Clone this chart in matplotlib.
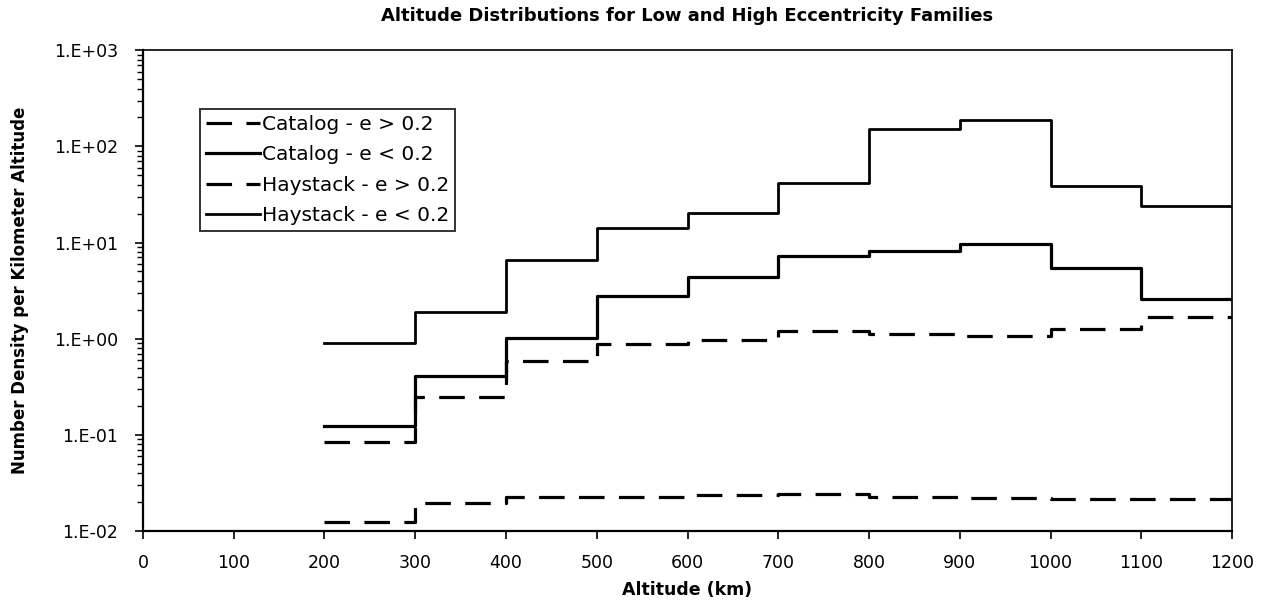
import matplotlib
matplotlib.use("Agg")
import matplotlib.pyplot as plt
from matplotlib.ticker import FixedLocator, LogLocator, NullFormatter

# bin edges (km) and number density per km altitude
edges = [200, 300, 400, 500, 600, 700, 800, 900, 1000, 1100, 1200]

catalog_hi_e = [0.0125, 0.0197, 0.0227, 0.0227, 0.0234, 0.0241, 0.0225, 0.0219, 0.0213, 0.0216]
catalog_lo_e = [0.123, 0.408, 1.02, 2.79, 4.33, 7.28, 8.2, 9.6, 5.45, 2.58]
haystack_hi_e = [0.0836, 0.249, 0.585, 0.88, 0.967, 1.19, 1.11, 1.07, 1.25, 1.69]
haystack_lo_e = [0.90, 1.89, 6.6, 14.1, 20.2, 41.4, 151, 187, 38.5, 23.9]

x_ticks = [0, 100, 200, 300, 400, 500, 600, 700, 800, 900, 1000, 1100, 1200]
y_ticks = [1e-2, 1e-1, 1e0, 1e1, 1e2, 1e3]
y_labels = ["1.E-02", "1.E-01", "1.E+00", "1.E+01", "1.E+02", "1.E+03"]

plt.rcParams['font.family'] = ['DejaVu Sans']

fig = plt.figure(figsize=(12.65, 6.13), dpi=100)
ax = fig.add_axes([0.113, 0.134, 0.861, 0.784])


def steps(vals):
    # repeat last value so the final bin is drawn out to its right edge
    return list(vals) + [vals[-1]]


dash = (0, (8, 4.5))
ax.step(edges, steps(catalog_hi_e), where='post', color='black', lw=2.3,
        linestyle=dash, label='Catalog - e > 0.2')
ax.step(edges, steps(catalog_lo_e), where='post', color='black', lw=2.3,
        label='Catalog - e < 0.2')
ax.step(edges, steps(haystack_hi_e), where='post', color='black', lw=2.3,
        linestyle=dash, label='Haystack - e > 0.2')
ax.step(edges, steps(haystack_lo_e), where='post', color='black', lw=2.0,
        label='Haystack - e < 0.2')

ax.set_yscale('log')
ax.set_xlim(0, 1200)
ax.set_ylim(1e-2, 1e3)

ax.xaxis.set_major_locator(FixedLocator(x_ticks))
ax.set_xticklabels([str(v) for v in x_ticks])
ax.set_yticks(y_ticks)
ax.set_yticklabels(y_labels)
ax.yaxis.set_minor_locator(LogLocator(base=10, subs=range(2, 10)))
ax.yaxis.set_minor_formatter(NullFormatter())

ax.tick_params(axis='both', which='major', direction='out', length=6, width=1.2,
               labelsize=12.5, color='black')
ax.tick_params(axis='x', pad=11)
ax.tick_params(axis='y', pad=12)
ax.tick_params(axis='y', which='minor', direction='out', length=4, width=1.0)

for side in ['left', 'bottom']:
    ax.spines[side].set_linewidth(1.6)
for side in ['top', 'right']:
    ax.spines[side].set_linewidth(1.2)

ax.set_title('Altitude Distributions for Low and High Eccentricity Families',
             fontsize=13, fontweight='bold', pad=21)
ax.set_xlabel('Altitude (km)', fontsize=12.5, fontweight='bold', labelpad=6)
ax.set_ylabel('Number Density per Kilometer Altitude', fontsize=12,
              fontweight='bold', labelpad=18)

leg = ax.legend(loc='upper left', bbox_to_anchor=(0.052, 0.877), fontsize=14.5,
                frameon=True, fancybox=False, shadow=False, handlelength=2.7,
                handletextpad=0.1, borderpad=0.3, labelspacing=0.55,
                borderaxespad=0)
leg.get_frame().set_edgecolor('black')
leg.get_frame().set_linewidth(1.4)

fig.savefig('out.png', dpi=100)
